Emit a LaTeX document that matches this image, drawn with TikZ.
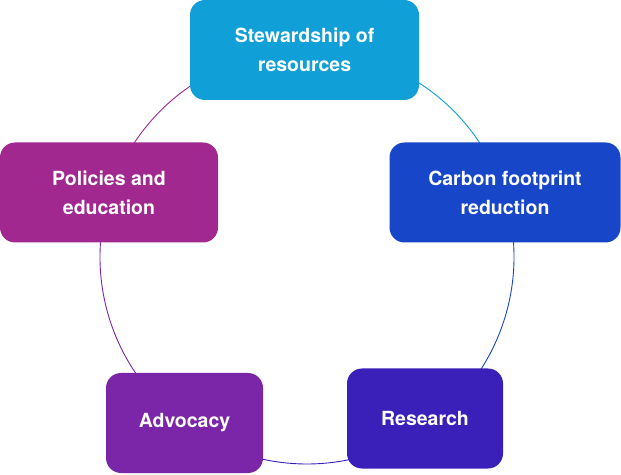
\documentclass[tikz,border=0pt]{standalone}
\usepackage{fontspec}
\setsansfont{TeX Gyre Heros}
\usepackage{tikz}
\usetikzlibrary{backgrounds}
\definecolor{cystew}    {HTML}{109FD6}
\definecolor{cycarbon}  {HTML}{1746C8}
\definecolor{cyresearch}{HTML}{3A1FB8}
\definecolor{cyadvocacy}{HTML}{7B25A8}
\definecolor{cypolicy}  {HTML}{A0288E}
\tikzset{
  cybox/.style={rounded corners=15pt, minimum height=100pt, inner sep=0pt,
                text=white, align=center,
                font=\sffamily\bfseries\fontsize{19.5}{29}\selectfont},
  cyarc/.style={line width=0.9pt},
}

\begin{document}
\begin{tikzpicture}[x=1pt,y=1pt]
  \useasboundingbox (0,0) rectangle (621,474);
  \coordinate (ctr) at (307,217);
  \node[cybox, fill=cystew, minimum width=229pt]     (stew)     at (304.5,424) {Stewardship of\\resources};
  \node[cybox, fill=cycarbon, minimum width=231pt]   (carbon)   at (505,281.5) {Carbon footprint\\reduction};
  \node[cybox, fill=cyresearch, minimum width=156pt] (research) at (425,55.5)  {Research};
  \node[cybox, fill=cyadvocacy, minimum width=157pt] (advocacy) at (184.5,51)  {Advocacy};
  \node[cybox, fill=cypolicy, minimum width=218pt]   (policy)   at (109,281.5) {Policies and\\education};
  % ring behind the boxes, one arc per step
  \begin{scope}[on background layer]
    \foreach \a/\b/\c in {90/18/cystew, 18/-54/cycarbon, -54/-126/cyresearch,
                          -126/-198/cyadvocacy, 162/90/cypolicy}
      {\draw[cyarc,\c] (ctr) ++(\a:207) arc[start angle=\a, end angle=\b, radius=207];}
  \end{scope}
\end{tikzpicture}
\end{document}
